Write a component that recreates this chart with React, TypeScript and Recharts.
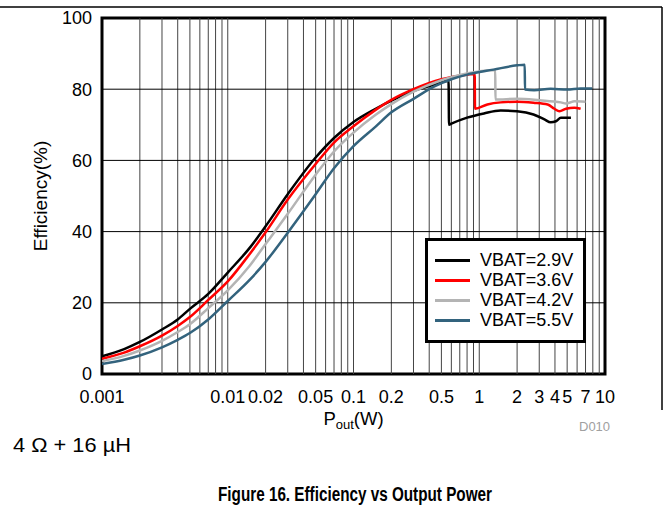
import { LineChart, Line, XAxis, YAxis, ReferenceLine, ReferenceArea, Legend } from "recharts"

const W = 669
const H = 515
const FONT = "'Liberation Sans', Arial, Helvetica, sans-serif"

// plot box: x 102..605, y 18..374
const PLOT = { left: 102, right: 605, top: 18, bottom: 374 }

const xTicks = [0.001, 0.01, 0.02, 0.05, 0.1, 0.2, 0.5, 1, 2, 3, 4, 5, 7, 10]
const yTicks = [0, 20, 40, 60, 80, 100]
const yGrid = [20, 40, 60, 80]
const xGrid = [
  0.002, 0.003, 0.004, 0.005, 0.006, 0.007, 0.008, 0.009, 0.01,
  0.02, 0.03, 0.04, 0.05, 0.06, 0.07, 0.08, 0.09, 0.1,
  0.2, 0.3, 0.4, 0.5, 0.6, 0.7, 0.8, 0.9, 1,
  2, 3, 4, 5, 6, 7, 8, 9,
]

// VBAT = 2.9V
const p29 = [0.001, 0.0015, 0.002, 0.003, 0.004, 0.005, 0.007, 0.01, 0.015, 0.02, 0.03, 0.05, 0.07, 0.1, 0.15, 0.2, 0.3, 0.44, 0.57, 0.575, 0.6, 0.8, 1.09, 1.48, 2.0, 2.7, 3.3, 3.7, 4.07, 4.46, 5.36]
const e29 = [5.0, 7.0, 9.0, 12.5, 15.3, 18.3, 22.5, 28.5, 35.5, 41.5, 50.5, 60.8, 66.3, 70.8, 74.5, 76.8, 79.5, 81.3, 82.4, 70.0, 70.3, 72.0, 73.2, 74.0, 73.8, 72.9, 71.5, 70.7, 71.0, 72.0, 72.0]

// VBAT = 3.6V
const p36 = [0.001, 0.0015, 0.002, 0.003, 0.004, 0.005, 0.007, 0.01, 0.015, 0.02, 0.03, 0.05, 0.07, 0.1, 0.15, 0.2, 0.3, 0.5, 0.7, 0.92, 0.925, 1.16, 1.48, 2.0, 2.7, 3.5, 3.96, 4.34, 4.9, 5.7, 6.4]
const e36 = [4.3, 6.0, 7.8, 10.8, 13.5, 16.0, 20.8, 26.0, 33.8, 39.8, 49.0, 59.0, 65.0, 69.6, 74.2, 77.0, 80.0, 82.8, 83.8, 84.3, 74.5, 75.7, 76.3, 76.5, 76.2, 75.7, 74.5, 73.8, 74.5, 74.8, 74.5]

// VBAT = 4.2V
const p42 = [0.001, 0.0015, 0.002, 0.003, 0.004, 0.005, 0.007, 0.01, 0.015, 0.02, 0.03, 0.05, 0.07, 0.1, 0.15, 0.2, 0.3, 0.5, 0.7, 1.0, 1.34, 1.345, 2.0, 3.0, 4.46, 4.9, 5.2, 5.7, 7.0]
const e42 = [3.6, 5.1, 6.6, 9.3, 11.8, 14.0, 18.5, 23.5, 30.5, 36.5, 45.0, 56.0, 62.5, 67.8, 72.8, 75.8, 79.3, 82.5, 84.0, 85.0, 85.4, 77.1, 77.3, 76.9, 76.3, 76.0, 76.2, 76.6, 76.5]

// VBAT = 5.5V
const p55 = [0.001, 0.0015, 0.002, 0.003, 0.004, 0.005, 0.007, 0.01, 0.015, 0.02, 0.03, 0.05, 0.07, 0.1, 0.15, 0.2, 0.3, 0.44, 0.6, 0.8, 1.3, 2.0, 2.3, 2.31, 2.73, 3.7, 5.0, 6.4, 7.9]
const e55 = [2.8, 4.0, 5.2, 7.5, 9.6, 11.5, 15.3, 20.5, 26.5, 31.5, 39.7, 50.5, 57.8, 64.0, 69.5, 73.5, 77.3, 80.8, 82.8, 84.1, 85.5, 86.7, 86.9, 79.9, 79.7, 80.1, 79.9, 80.2, 80.2]

const zip = (p: number[], e: number[]) => p.map((x, i) => ({ p: x, eff: e[i] }))

const series = [
  { name: "VBAT=2.9V", color: "#000000", data: zip(p29, e29) },
  { name: "VBAT=3.6V", color: "#ff0000", data: zip(p36, e36) },
  { name: "VBAT=4.2V", color: "#b4b4b4", data: zip(p42, e42) },
  { name: "VBAT=5.5V", color: "#33637d", data: zip(p55, e55) },
]

const tickStyle = { fill: "#000", fontSize: 18, fontFamily: FONT }

function LegendBox() {
  return (
    <div
      style={{
        boxSizing: "border-box",
        width: 161,
        height: 105,
        border: "3px solid #000",
        background: "#fff",
        paddingTop: 9,
        paddingLeft: 7,
        fontFamily: FONT,
        fontSize: 18,
        color: "#000",
      }}
    >
      {series.map((s) => (
        <div key={s.name} style={{ display: "flex", alignItems: "center", height: 20 }}>
          <span style={{ display: "inline-block", width: 35, height: 3, background: s.color, marginRight: 10 }} />
          <span style={{ lineHeight: "20px" }}>{s.name}</span>
        </div>
      ))}
    </div>
  )
}

export default function App() {
  const midX = (PLOT.left + PLOT.right) / 2
  const midY = (PLOT.top + PLOT.bottom) / 2
  return (
    <div style={{ position: "absolute", left: 0, top: 0, width: W, height: H, background: "#fff", fontFamily: FONT }}>
      <LineChart
        width={W}
        height={H}
        margin={{ top: PLOT.top, right: W - PLOT.right, left: 0, bottom: 0 }}
      >
        <XAxis
          dataKey="p"
          type="number"
          scale="log"
          domain={[0.001, 10]}
          ticks={xTicks}
          interval={0}
          allowDataOverflow
          tickFormatter={(v: number) => String(v)}
          axisLine={false}
          tickLine={false}
          tick={tickStyle}
          tickMargin={10}
          height={H - PLOT.bottom}
        />
        <YAxis
          type="number"
          domain={[0, 100]}
          ticks={yTicks}
          interval={0}
          axisLine={false}
          tickLine={false}
          tick={tickStyle}
          tickMargin={4}
          width={PLOT.left}
        />
        {xGrid.map((v) => (
          <ReferenceLine key={"x" + v} x={v} stroke="#444" strokeWidth={1} />
        ))}
        {yGrid.map((v) => (
          <ReferenceLine key={"y" + v} y={v} stroke="#000" strokeWidth={1} />
        ))}
        {series.map((s) => (
          <Line
            key={s.name}
            data={s.data}
            dataKey="eff"
            name={s.name}
            type="monotone"
            stroke={s.color}
            strokeWidth={2.5}
            dot={false}
            activeDot={false}
            isAnimationActive={false}
          />
        ))}
        <ReferenceArea
          x1={0.001}
          x2={10}
          y1={0}
          y2={100}
          fill="none"
          fillOpacity={0}
          stroke="#000"
          strokeWidth={3}
          ifOverflow="visible"
        />
        <Legend
          layout="horizontal"
          verticalAlign="middle"
          align="center"
          content={() => <LegendBox />}
          wrapperStyle={{ position: "absolute", left: 425, top: 238, width: 161, height: 105 }}
        />
      </LineChart>
      <svg
        width={W}
        height={H}
        style={{ position: "absolute", left: 0, top: 0, pointerEvents: "none" }}
        fontFamily={FONT}
      >
        <line x1={0} y1={7} x2={662} y2={7} stroke="#000" strokeWidth={1.5} />
        <line x1={662} y1={7} x2={662} y2={410} stroke="#000" strokeWidth={1.5} />
        <text
          x={40}
          y={midY}
          fontSize={19}
          textAnchor="middle"
          dominantBaseline="central"
          transform={`rotate(-90 40 ${midY})`}
        >
          Efficiency(%)
        </text>
        <text x={midX} y={425} fontSize={18.5} textAnchor="middle">
          P<tspan fontSize={13} dy={4}>out</tspan>
          <tspan dy={-4}>(W)</tspan>
        </text>
        <text x={579} y={431} fontSize={13} fill="#a0a0a0">
          D010
        </text>
        <text x={13} y={452} fontSize={20} textLength={118} lengthAdjust="spacingAndGlyphs">
          4 Ω + 16 µH
        </text>
        <text x={218} y={501} fontSize={19.5} fontWeight="bold" textLength={274} lengthAdjust="spacingAndGlyphs">
          Figure 16. Efficiency vs Output Power
        </text>
      </svg>
    </div>
  )
}
